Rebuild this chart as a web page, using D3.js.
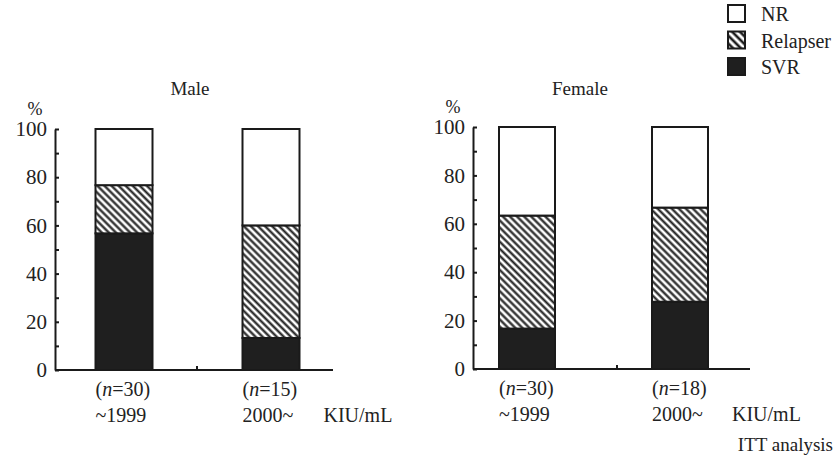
<!DOCTYPE html>
<html>
<head>
<meta charset="utf-8">
<script src="https://cdn.jsdelivr.net/npm/d3@7"></script>
<style>
  body { margin: 0; background: #fff; }
  svg text { font-family: "Liberation Serif", "Times New Roman", Times, "DejaVu Serif", serif !important; fill: #222; }
</style>
</head>
<body>
<div id="chart"></div>
<script>
// categories and values (percent, ITT)
const categories = ["~1999", "2000~"];
const seriesNames = ["SVR", "Relapser", "NR"];
const legendOrder = ["NR", "Relapser", "SVR"];
const yTicks = [0, 20, 40, 60, 80, 100];

const maleN = [30, 15];
const maleSVR = [56.7, 13.3];
const maleRelapser = [20.0, 46.7];
const maleNR = [23.3, 40.0];

const femaleN = [30, 18];
const femaleSVR = [16.7, 27.8];
const femaleRelapser = [46.7, 38.9];
const femaleNR = [36.6, 33.3];

const W = 836, H = 457;
const svg = d3.select("#chart").append("svg")
  .attr("width", W).attr("height", H);

const defs = svg.append("defs");
function hatch(id, size, sw) {
  const p = defs.append("pattern")
    .attr("id", id)
    .attr("patternUnits", "userSpaceOnUse")
    .attr("width", size).attr("height", size)
    .attr("patternTransform", "rotate(-45)");
  p.append("rect").attr("width", size).attr("height", size).attr("fill", "#fff");
  p.append("line")
    .attr("x1", size / 2).attr("x2", size / 2)
    .attr("y1", 0).attr("y2", size)
    .attr("stroke", "#1e1e1e").attr("stroke-width", sw);
}
hatch("hatch", 5, 2.2);
hatch("hatchLegend", 5.5, 2.6);

const fills = { SVR: "#1f1f1f", Relapser: "url(#hatch)", NR: "#fff" };

function rows(svr, rel, nr) {
  return categories.map((c, i) => ({ cat: c, SVR: svr[i], Relapser: rel[i], NR: nr[i] }));
}

const panels = [
  { title: "Male", n: maleN, data: rows(maleSVR, maleRelapser, maleNR),
    left: 55, right: 333, top: 129, bottom: 370, bars: [124, 271], bw: 57, tick: 197, titleX: 190 },
  { title: "Female", n: femaleN, data: rows(femaleSVR, femaleRelapser, femaleNR),
    left: 473, right: 750, top: 127, bottom: 369, bars: [527, 680], bw: 56, tick: 617, titleX: 580 }
];

const stack = d3.stack().keys(seriesNames);

panels.forEach(p => {
  const g = svg.append("g");
  const x = d3.scalePoint().domain(categories).range(p.bars);
  const y = d3.scaleLinear().domain([0, 100]).range([p.bottom, p.top]);

  // stacked bars
  const layers = stack(p.data);
  g.selectAll("g.layer")
    .data(layers)
    .enter().append("g")
    .attr("class", "layer")
    .attr("fill", d => fills[d.key])
    .selectAll("rect")
    .data(d => d)
    .enter().append("rect")
    .attr("x", d => x(d.data.cat) - p.bw / 2)
    .attr("y", d => y(d[1]))
    .attr("width", p.bw)
    .attr("height", d => y(d[0]) - y(d[1]))
    .attr("stroke", "#1a1a1a")
    .attr("stroke-width", 2);

  // y axis, ticks pointing inward
  const yAxis = d3.axisLeft(y)
    .tickValues(d3.range(0, 101, 10))
    .tickSizeInner(-4)
    .tickSizeOuter(0)
    .tickPadding(8)
    .tickFormat(d => yTicks.includes(d) ? d : "");
  const ya = g.append("g")
    .attr("transform", `translate(${p.left},0)`)
    .call(yAxis)
    .attr("font-family", null);
  ya.selectAll("path, line").attr("stroke", "#1a1a1a").attr("stroke-width", 2);
  ya.selectAll("text").attr("font-size", 21).attr("fill", "#222");

  // x axis baseline + middle tick
  g.append("line")
    .attr("x1", p.left).attr("x2", p.right)
    .attr("y1", y(0)).attr("y2", y(0))
    .attr("stroke", "#1a1a1a").attr("stroke-width", 2);
  g.append("line")
    .attr("x1", p.tick).attr("x2", p.tick)
    .attr("y1", y(0)).attr("y2", y(0) - 4)
    .attr("stroke", "#1a1a1a").attr("stroke-width", 2);

  // "%" label
  g.append("text")
    .attr("x", p.left - 20).attr("y", p.top - 14)
    .attr("text-anchor", "middle")
    .attr("font-size", 18)
    .text("%");

  // panel title
  g.append("text")
    .attr("x", p.titleX).attr("y", 95)
    .attr("text-anchor", "middle")
    .attr("font-size", 19)
    .text(p.title);

  // category labels
  categories.forEach((c, i) => {
    const lx = x(c) - p.bw / 2;
    const t = g.append("text")
      .attr("x", lx).attr("y", p.bottom + 26)
      .attr("font-size", 20);
    t.append("tspan").text("(");
    t.append("tspan").attr("font-style", "italic").text("n");
    t.append("tspan").text("=" + p.n[i] + ")");
    g.append("text")
      .attr("x", lx).attr("y", p.bottom + 52)
      .attr("font-size", 20)
      .text(c);
  });

  g.append("text")
    .attr("x", x(categories[1]) + p.bw / 2 + 24).attr("y", p.bottom + 52)
    .attr("font-size", 20)
    .text("KIU/mL");
});

svg.append("text")
  .attr("x", 833).attr("y", 451)
  .attr("text-anchor", "end")
  .attr("font-size", 19)
  .text("ITT analysis");

// legend
const legendFills = { NR: "#fff", Relapser: "url(#hatchLegend)", SVR: "#1f1f1f" };
const lg = svg.append("g").attr("transform", "translate(728,5)");
const li = lg.selectAll("g")
  .data(legendOrder)
  .enter().append("g")
  .attr("transform", (d, i) => `translate(0,${i * 26.5})`);
li.append("rect")
  .attr("width", 17).attr("height", 17)
  .attr("fill", d => legendFills[d])
  .attr("stroke", "#1a1a1a").attr("stroke-width", 2);
li.append("text")
  .attr("x", 33).attr("y", 16)
  .attr("font-size", 20)
  .text(d => d);
</script>
</body>
</html>
